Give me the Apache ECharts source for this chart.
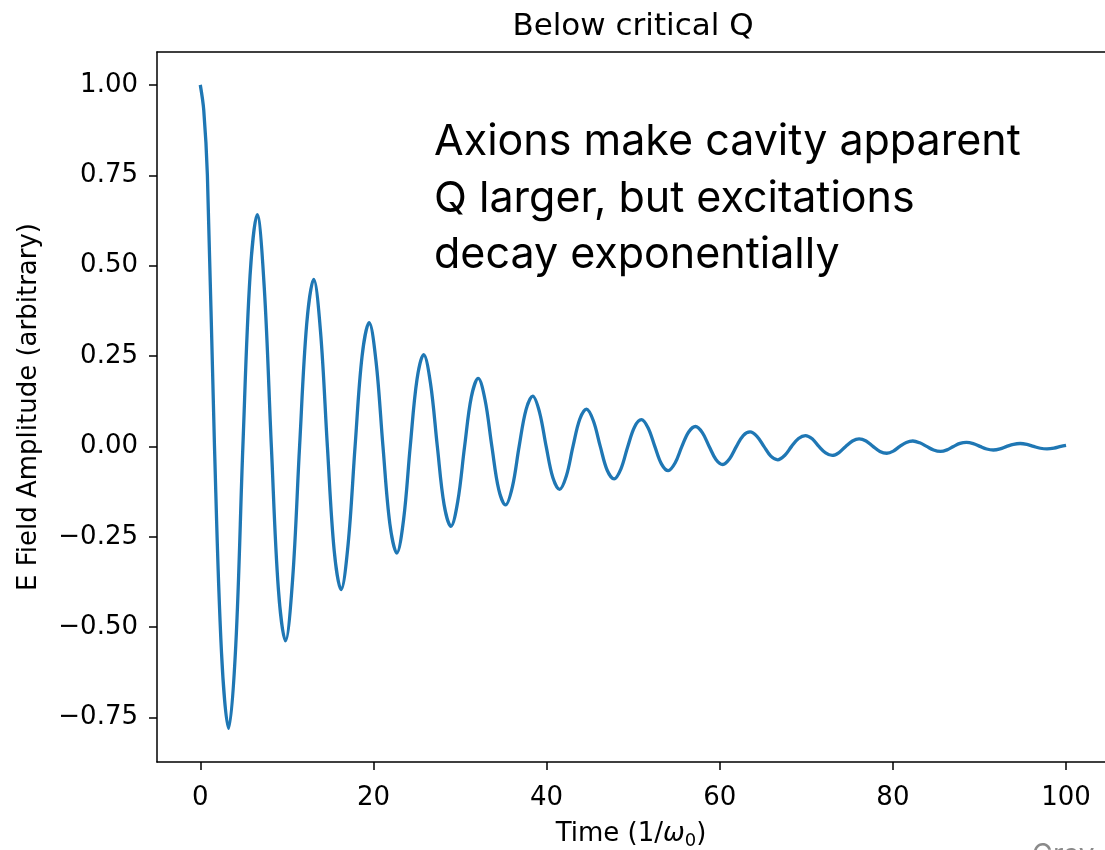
<!DOCTYPE html>
<html>
<head>
<meta charset="utf-8">
<script src="https://cdn.jsdelivr.net/npm/echarts@6/dist/echarts.min.js"></script>
<style>
html,body{margin:0;padding:0;background:#fff;}
#chart{width:1105px;height:850px;}
</style>
</head>
<body>
<div id="chart"></div>
<script>
// Values
const timeValues = [
  0, 0.4, 0.82, 1.64, 2.45,
  3.27, 4.10, 4.92, 5.75,
  6.57, 7.39, 8.21, 9.02,
  9.84, 10.66, 11.47, 12.29,
  13.1, 13.89, 14.68, 15.47,
  16.26, 17.07, 17.88, 18.69,
  19.5, 20.3, 21.1, 21.9,
  22.7, 23.48, 24.25, 25.03,
  25.8, 26.59, 27.38, 28.16,
  28.95, 29.74, 30.53, 31.31,
  32.1, 32.89, 33.68, 34.47,
  35.26, 36.05, 36.83, 37.62,
  38.4, 39.18, 39.95, 40.73,
  41.5, 42.28, 43.05, 43.83,
  44.6, 45.4, 46.2, 47.0,
  47.8, 48.59, 49.38, 50.16,
  50.95, 51.73, 52.5, 53.28,
  54.05, 54.84, 55.63, 56.41,
  57.2, 57.99, 58.78, 59.56,
  60.35, 61.14, 61.93, 62.71,
  63.5, 64.3, 65.1, 65.9,
  66.7, 67.5, 68.3, 69.1,
  69.9, 70.68, 71.45, 72.23,
  73.0, 73.78, 74.55, 75.33,
  76.1, 76.9, 77.7, 78.5,
  79.3, 80.05, 80.8, 81.55,
  82.3, 83.1, 83.9, 84.7,
  85.5, 86.25, 87.0, 87.75,
  88.5, 89.28, 90.05, 90.83,
  91.6, 92.38, 93.15, 93.93,
  94.7, 95.48, 96.25, 97.03,
  97.8, 98.6, 99.4, 100
];
const amplitudeValues = [
  1.000, 0.930, 0.750, 0.000, -0.570,
  -0.780, -0.550, 0.000, 0.473,
  0.641, 0.439, 0.000, -0.395,
  -0.538, -0.369, 0.000, 0.338,
  0.462, 0.317, 0.000, -0.289,
  -0.396, -0.272, 0.000, 0.250,
  0.342, 0.235, 0.000, -0.215,
  -0.295, -0.203, 0.000, 0.185,
  0.254, 0.175, 0.000, -0.161,
  -0.221, -0.152, 0.000, 0.137,
  0.188, 0.129, 0.000, -0.119,
  -0.162, -0.112, 0.000, 0.101,
  0.139, 0.095, 0.000, -0.087,
  -0.119, -0.082, 0.000, 0.075,
  0.103, 0.071, 0.000, -0.066,
  -0.090, -0.062, 0.000, 0.054,
  0.074, 0.051, 0.000, -0.049,
  -0.067, -0.046, 0.000, 0.040,
  0.055, 0.038, 0.000, -0.036,
  -0.050, -0.034, 0.000, 0.030,
  0.040, 0.028, 0.000, -0.027,
  -0.037, -0.025, 0.000, 0.022,
  0.030, 0.021, 0.000, -0.018,
  -0.025, -0.017, 0.000, 0.015,
  0.021, 0.015, 0.000, -0.014,
  -0.019, -0.013, 0.000, 0.011,
  0.015, 0.010, 0.000, -0.010,
  -0.014, -0.0095, 0.000, 0.0082,
  0.011, 0.0076, 0.000, -0.0072,
  -0.010, -0.0068, 0.000, 0.0059,
  0.008, 0.0055, 0.000, -0.0051,
  -0.007, -0.005, 0.000, 0.003
];
const xTickValues = [0, 20, 40, 60, 80, 100];
const yTickValues = [-0.75, -0.50, -0.25, 0.00, 0.25, 0.50, 0.75, 1.00];

const titleText = 'Below critical Q';
const xAxisName = 'Time (1/{w|ω}{s|0})';
const yAxisName = 'E Field Amplitude (arbitrary)';
const annotationLines = ['Axions make cavity apparent', 'Q larger, but excitations', 'decay exponentially'];

const seriesData = timeValues.map((t, i) => [t, amplitudeValues[i]]);

const FONT = '"DejaVu Sans", sans-serif';
const X_MIN = -5, X_MAX = 104.5;
const chart = echarts.init(document.getElementById('chart'), null, {renderer: 'canvas'});

const axisLineStyle = {color: '#000', width: 1.5};

chart.setOption({
  animation: false,
  backgroundColor: '#ffffff',
  grid: {
    left: 157, top: 52, right: 0, height: 710,
    show: false, containLabel: false, outerBoundsMode: 'none'
  },
  xAxis: [{
    type: 'value', min: X_MIN, max: X_MAX, position: 'bottom',
    name: xAxisName, nameLocation: 'middle', nameGap: 57,
    nameTextStyle: {
      fontFamily: FONT, fontSize: 26, color: '#000', lineHeight: 31,
      rich: {
        w: {fontFamily: FONT, fontSize: 26, fontStyle: 'italic', color: '#000', lineHeight: 31},
        s: {fontFamily: FONT, fontSize: 18, color: '#000', lineHeight: 18, verticalAlign: 'bottom'}
      }
    },
    axisLine: {show: true, onZero: false, lineStyle: axisLineStyle},
    axisTick: {show: true, inside: false, length: 8, lineStyle: axisLineStyle, customValues: xTickValues},
    axisLabel: {
      show: true, margin: 23, fontFamily: FONT, fontSize: 26, color: '#000',
      customValues: xTickValues,
      formatter: v => String(v)
    },
    splitLine: {show: false}
  }, {
    type: 'value', min: X_MIN, max: X_MAX, position: 'top',
    axisLine: {show: true, onZero: false, lineStyle: axisLineStyle},
    axisTick: {show: false}, axisLabel: {show: false}, splitLine: {show: false}
  }],
  yAxis: {
    type: 'value', min: -0.873, max: 1.091, position: 'left',
    name: yAxisName, nameLocation: 'middle', nameGap: 115,
    nameTextStyle: {fontFamily: FONT, fontSize: 26, color: '#000'},
    axisLine: {show: true, onZero: false, lineStyle: axisLineStyle},
    axisTick: {show: true, inside: false, length: 8, lineStyle: axisLineStyle, customValues: yTickValues},
    axisLabel: {
      show: true, margin: 19, fontFamily: FONT, fontSize: 26, color: '#000',
      customValues: yTickValues,
      formatter: v => (v < 0 ? '\u2212' : '') + Math.abs(v).toFixed(2)
    },
    splitLine: {show: false}
  },
  graphic: [
    {
      type: 'text', x: 633, y: 27,
      style: {text: titleText, font: '31px "DejaVu Sans"', fill: '#000', align: 'center', verticalAlign: 'middle'}
    },
    {
      type: 'text', x: 434, y: 114,
      style: {text: annotationLines.join('\n'), font: '43px Inter', lineHeight: 56.5, fill: '#000', align: 'left', verticalAlign: 'top'}
    },
    {
      type: 'text', x: 1032, y: 842,
      style: {text: 'Grav', font: '28px Inter', fill: '#8a8a8a', align: 'left', verticalAlign: 'top'}
    }
  ],
  series: [{
    type: 'line',
    xAxisIndex: 0,
    data: seriesData,
    showSymbol: false,
    smooth: 0.35,
    lineStyle: {color: '#1f77b4', width: 3.3},
    itemStyle: {color: '#1f77b4'},
    clip: true
  }]
});
</script>
</body>
</html>
